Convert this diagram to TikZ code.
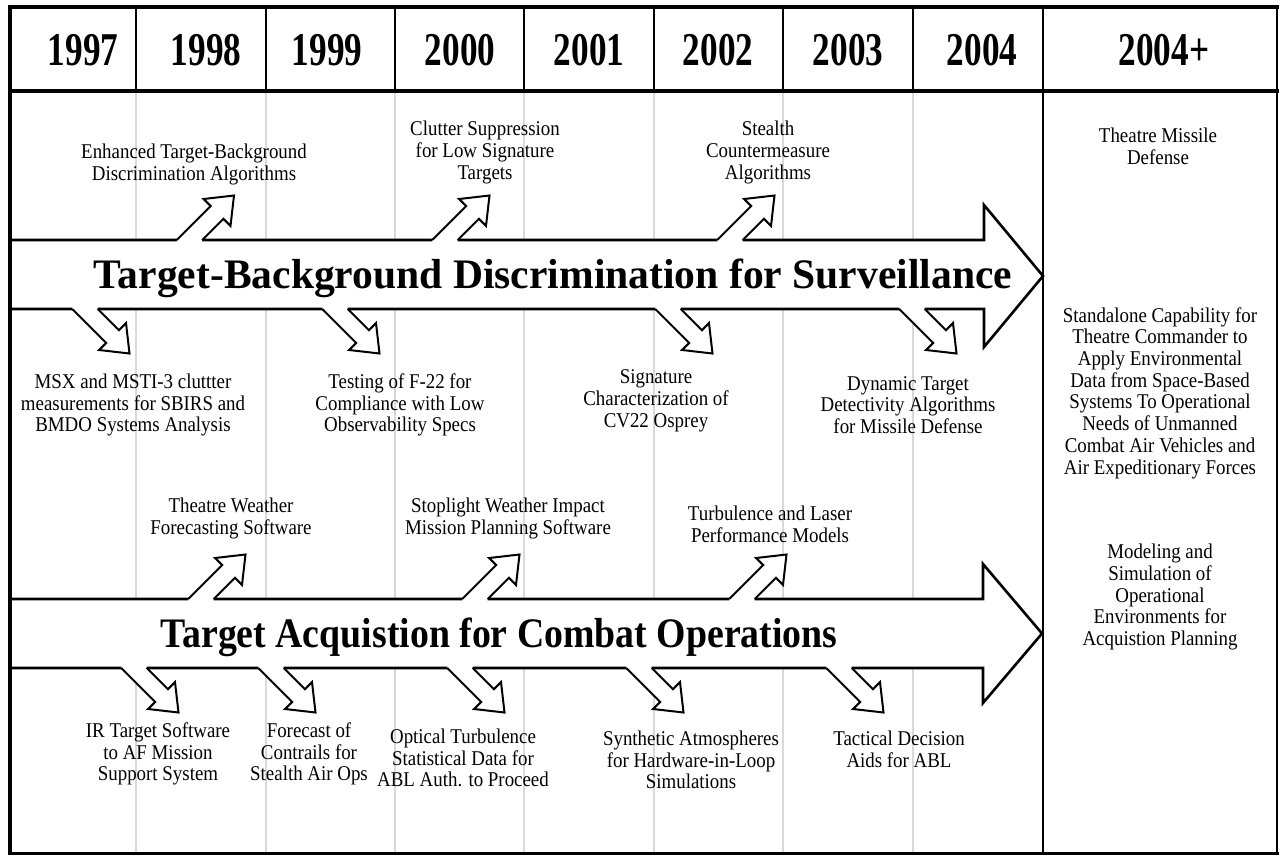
\documentclass[tikz,border=0pt]{standalone}
\usepackage{fontspec}
\setmainfont{Liberation Serif}
\newfontfamily\yearfont[FakeStretch=0.75]{Liberation Serif}
\newfontfamily\labelfont[FakeStretch=0.9]{Liberation Serif}
\newfontfamily\titlefont[FakeStretch=0.99]{Liberation Serif}
\newfontfamily\narrowtitlefont[FakeStretch=0.9]{Liberation Serif}
\definecolor{gridgray}{RGB}{217,217,217}

\tikzset{
  yearlbl/.style={font=\yearfont\bfseries\fontsize{47}{47}\selectfont, anchor=base, inner sep=0pt},
  bandtitle/.style={font=\titlefont\bfseries\fontsize{42}{42}\selectfont, anchor=base, inner sep=0pt},
  narrowtitle/.style={font=\narrowtitlefont\bfseries\fontsize{42}{42}\selectfont, anchor=base, inner sep=0pt},
  lbl/.style={font=\labelfont\fontsize{21}{21.7}\selectfont, align=center, inner sep=0pt},
  bigarrow/.style={draw=black, line width=2.6pt, fill=white, line join=miter},
  smallarrow/.style={draw=black, line width=2pt, line join=miter},
  gridline/.style={draw=gridgray, line width=2pt},
  divider/.style={draw=black, line width=1.8pt},
  uparr/.pic={
    \fill[white] (-12.7,4) -- (-12.7,0) -- (21.2,-33.9) -- (14.1,-41) -- (44.5,-44.5)
      -- (41,-14.1) -- (33.9,-21.2) -- (12.7,0) -- (12.7,4) -- cycle;
    \draw[smallarrow] (-12.7,0) -- (21.2,-33.9) -- (14.1,-41) -- (44.5,-44.5)
      -- (41,-14.1) -- (33.9,-21.2) -- (12.7,0);
  },
  downarr/.pic={
    \fill[white] (-12.7,-4) -- (-12.7,0) -- (21.2,33.9) -- (14.1,41) -- (44.5,44.5)
      -- (41,14.1) -- (33.9,21.2) -- (12.7,0) -- (12.7,-4) -- cycle;
    \draw[smallarrow] (-12.7,0) -- (21.2,33.9) -- (14.1,41) -- (44.5,44.5)
      -- (41,14.1) -- (33.9,21.2) -- (12.7,0);
  }
}

\begin{document}
\begin{tikzpicture}[x=1pt, y=-1pt]
\useasboundingbox (0,0) rectangle (1281,857);
\fill[white] (0,0) rectangle (1281,857);

% year columns: light rules in the body, black rules in the header
\foreach \cx in {136,266,395,524,654,783,913} {
  \draw[gridline] (\cx,92) -- (\cx,853);
  \draw[divider] (\cx,7) -- (\cx,92);
}
\draw[black, line width=2.6pt] (1043,7) -- (1043,853);

% the two programme bands
\draw[bigarrow] (10,240) -- (984,240) -- (984,205) -- (1043,276) -- (984,347)
  -- (984,309) -- (10,309);
\draw[bigarrow] (10,599) -- (983,599) -- (983,564) -- (1042,633.5) -- (983,703)
  -- (983,668) -- (10,668);

% milestone arrows, surveillance band
\pic at (189.5,240) {uparr};
\pic at (445,240) {uparr};
\pic at (730,240) {uparr};
\pic at (85,309) {downarr};
\pic at (335,309) {downarr};
\pic at (668,309) {downarr};
\pic at (912,309) {downarr};

% milestone arrows, combat operations band
\pic at (201,599) {uparr};
\pic at (475,599) {uparr};
\pic at (742,599) {uparr};
\pic at (134,668) {downarr};
\pic at (271,668) {downarr};
\pic at (460,668) {downarr};
\pic at (639,668) {downarr};
\pic at (839,668) {downarr};

% frame and header rule
\draw[black, line width=4pt] (8,7) -- (1279,7);
\draw[black, line width=4pt] (8,91) -- (1279,91);
\draw[black, line width=4pt] (10,5) -- (10,855);
\draw[black, line width=3pt] (8,853) -- (1279,853);
\draw[black, line width=2.6pt] (1277,5) -- (1277,855);

% header
\node[yearlbl] (y97) at (83,65) {1997};
\node[yearlbl] (y98) at (206,65) {1998};
\node[yearlbl] (y99) at (327,65) {1999};
\node[yearlbl] (y00) at (460,65) {2000};
\node[yearlbl] (y01) at (589,65) {2001};
\node[yearlbl] (y02) at (718,65) {2002};
\node[yearlbl] (y03) at (848,65) {2003};
\node[yearlbl] (y04) at (982,65) {2004};
\node[yearlbl] (y04p) at (1164,65) {2004+};

% band titles
\node[bandtitle] (t1) at (553,288) {Target-Background Discrimination for Surveillance};
\node[narrowtitle] (t2) at (499,647) {Target Acquistion for Combat Operations};

% surveillance milestones
\node[lbl] (a1) at (194,164.5) {Enhanced Target-Background\\Discrimination Algorithms};
\node[lbl] (a2) at (485,152.5) {Clutter Suppression\\for Low Signature\\Targets};
\node[lbl] (a3) at (768,152.5) {Stealth\\Countermeasure\\Algorithms};
\node[lbl] (a4) at (1158,146) {Theatre Missile\\Defense};
\node[lbl] (b1) at (133,405) {MSX and MSTI-3 cluttter\\measurements for SBIRS and\\BMDO Systems Analysis};
\node[lbl] (b2) at (400,405) {Testing of F-22 for\\Compliance with Low\\Observability Specs};
\node[lbl] (b3) at (656,401) {Signature\\Characterization of\\CV22 Osprey};
\node[lbl] (b4) at (908,405) {Dynamic Target\\Detectivity Algorithms\\for Missile Defense};
\node[lbl] (b5) at (1160,393) {Standalone Capability for\\Theatre Commander to\\Apply Environmental\\Data from Space-Based\\Systems To Operational\\Needs of Unmanned\\Combat Air Vehicles and\\Air Expeditionary Forces};

% combat operations milestones
\node[lbl] (c1) at (231,518.5) {Theatre Weather\\Forecasting Software};
\node[lbl] (c2) at (508,518.5) {Stoplight Weather Impact\\Mission Planning Software};
\node[lbl] (c3) at (770,524.5) {Turbulence and Laser\\Performance Models};
\node[lbl] (c4) at (1160,597) {Modeling and\\Simulation of\\Operational\\Environments for\\Acquistion Planning};
\node[lbl] (d1) at (158,754) {IR Target Software\\to AF Mission\\Support System};
\node[lbl] (d2) at (309,754) {Forecast of\\Contrails for\\Stealth Air Ops};
\node[lbl] (d3) at (463,758) {Optical Turbulence\\Statistical Data for\\ABL Auth. to Proceed};
\node[lbl] (d4) at (691,760) {Synthetic Atmospheres\\for Hardware-in-Loop\\Simulations};
\node[lbl] (d5) at (899,749.5) {Tactical Decision\\Aids for ABL};
\end{tikzpicture}
\end{document}
